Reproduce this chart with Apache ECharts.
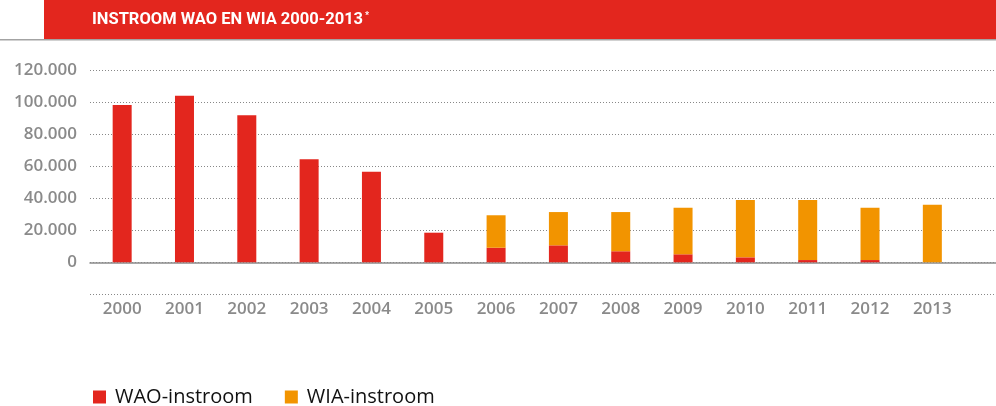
<!DOCTYPE html>
<html>
<head>
<meta charset="utf-8">
<script src="https://cdn.jsdelivr.net/npm/echarts@6/dist/echarts.min.js"></script>
<style>
html,body{margin:0;padding:0;background:#fff;}
#c{width:996px;height:406px;}
</style>
</head>
<body>
<div id="c"></div>
<script>
const titleText = 'INSTROOM WAO EN WIA 2000-2013';
const years = ['2000','2001','2002','2003','2004','2005','2006','2007','2008','2009','2010','2011','2012','2013'];
const waoInstroom = [98300,104100,91900,64400,56600,18500,9100,10600,6900,5000,3100,1400,1400,0];
const wiaInstroom = [0,0,0,0,0,0,20300,20800,24500,29100,35800,37500,32700,36000];
const yMin = -20000, yMax = 120000, yStep = 20000;
const seriesNames = ['WAO-instroom','WIA-instroom'];

const RED = '#e3261e', ORANGE = '#f29400', GREY = '#8a8a8a';
const fmt = v => v === 0 ? '0' : String(v).replace(/\B(?=(\d{3})+(?!\d))/g, '.');

const chart = echarts.init(document.getElementById('c'), null, {renderer:'canvas'});
chart.setOption({
  animation: false,
  backgroundColor: '#fff',
  title: {
    text: '{t|' + titleText + '}{s|*}',
    left: 92, top: 11, padding: 0,
    textStyle: {
      rich: {
        t: {fontFamily: 'Roboto', fontWeight: 'bold', fontSize: 16.5, color: '#fff'},
        s: {fontFamily: 'Roboto', fontWeight: 'bold', fontSize: 9, color: '#fff', verticalAlign: 'top', padding: [0,0,8,2]}
      }
    }
  },
  graphic: [
    {type: 'rect', z: -1, shape: {x: 44, y: 0, width: 952, height: 39}, style: {fill: RED}},
    {type: 'rect', z: -1, shape: {x: 0, y: 39, width: 996, height: 1.5}, style: {fill: '#a3a3a3'}}
  ],
  legend: {
    left: 88, top: 382,
    icon: 'rect', itemWidth: 13, itemHeight: 13, itemGap: 32,
    textStyle: {fontFamily: 'Open Sans', fontSize: 20, color: '#111', padding: [0,0,0,4]},
    data: seriesNames
  },
  grid: [
    {left: 90, right: 0, top: 70.3, bottom: 111.7},
    {left: 91, right: 32.5, top: 70.3, bottom: 111.7}
  ],
  xAxis: [
    {gridIndex: 0, type: 'category', data: years, axisLine: {onZero: true, lineStyle: {color: GREY, width: 1.5}},
     axisTick: {show: false}, axisLabel: {show: false}, splitLine: {show: false}},
    {gridIndex: 1, type: 'category', data: years, axisLine: {show: false, onZero: false}, axisTick: {show: false},
     axisLabel: {margin: 6, fontFamily: 'Open Sans', fontWeight: 600, fontSize: 17, color: GREY}}
  ],
  yAxis: [
    {gridIndex: 0, type: 'value', min: yMin, max: yMax, interval: yStep,
     axisLine: {show: false}, axisTick: {show: false},
     axisLabel: {margin: 13, fontFamily: 'Open Sans', fontWeight: 600, fontSize: 17, color: GREY,
       formatter: v => v < 0 ? '' : fmt(v)},
     splitLine: {lineStyle: {type: [1,2], color: '#888', width: 1}}},
    {gridIndex: 1, type: 'value', min: yMin, max: yMax, interval: yStep, show: false, splitLine: {show: false}}
  ],
  series: [
    {name: seriesNames[0], type: 'bar', xAxisIndex: 1, yAxisIndex: 1, stack: 'total', barWidth: 19,
     itemStyle: {color: RED}, data: waoInstroom},
    {name: seriesNames[1], type: 'bar', xAxisIndex: 1, yAxisIndex: 1, stack: 'total', barWidth: 19,
     itemStyle: {color: ORANGE}, data: wiaInstroom}
  ]
});
</script>
</body>
</html>
